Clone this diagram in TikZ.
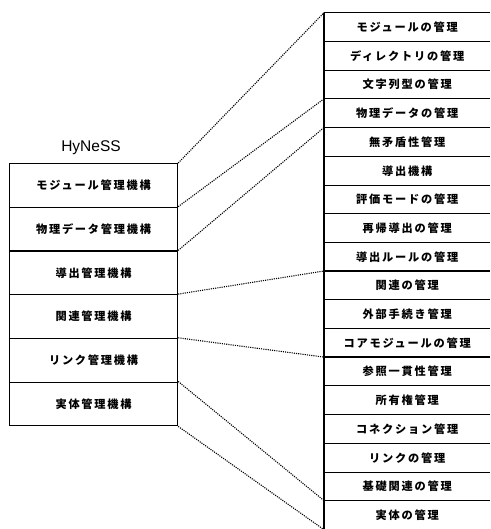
\documentclass[tikz,border=0pt]{standalone}
\usepackage{fontspec}
\setmainfont{Liberation Sans}
\newfontfamily\jp[LetterSpace=16]{Noto Sans CJK JP}
\begin{document}
\begin{tikzpicture}[x=1pt,y=-1pt]
\useasboundingbox (0,0) rectangle (490,529);
\tikzset{
  lbox/.style={draw, line width=1.2pt, minimum width=168pt, minimum height=43.7pt, inner sep=0pt, anchor=north west, font=\jp\bfseries\fontsize{11.2}{13}\selectfont},
  rbox/.style={minimum width=166pt, minimum height=28.7pt, inner sep=0pt, anchor=north west, font=\jp\bfseries\fontsize{11.2}{13}\selectfont},
  link/.style={dash pattern=on 1.1pt off 1.1pt, line width=1.1pt},
  grp/.style={line width=1.4pt},
  sep/.style={line width=0.7pt}
}
\node[font=\fontsize{15.5}{17}\selectfont] (title) at (91,148) {HyNeSS};
\node[lbox] (L1) at (9,163.0) {モジュール管理機構};
\node[lbox] (L2) at (9,206.7) {物理データ管理機構};
\node[lbox] (L3) at (9,250.4) {導出管理機構};
\node[lbox] (L4) at (9,294.1) {関連管理機構};
\node[lbox] (L5) at (9,337.8) {リンク管理機構};
\node[lbox] (L6) at (9,381.5) {実体管理機構};
\node[rbox] (R0) at (324,12.7) {モジュールの管理};
\node[rbox] (R1) at (324,41.4) {ディレクトリの管理};
\node[rbox] (R2) at (324,70.1) {文字列型の管理};
\node[rbox] (R3) at (324,98.8) {物理データの管理};
\node[rbox] (R4) at (324,127.5) {無矛盾性管理};
\node[rbox] (R5) at (324,156.2) {導出機構};
\node[rbox] (R6) at (324,184.9) {評価モードの管理};
\node[rbox] (R7) at (324,213.6) {再帰導出の管理};
\node[rbox] (R8) at (324,242.3) {導出ルールの管理};
\node[rbox] (R9) at (324,271.0) {関連の管理};
\node[rbox] (R10) at (324,299.7) {外部手続き管理};
\node[rbox] (R11) at (324,328.4) {コアモジュールの管理};
\node[rbox] (R12) at (324,357.1) {参照一貫性管理};
\node[rbox] (R13) at (324,385.8) {所有権管理};
\node[rbox] (R14) at (324,414.5) {コネクション管理};
\node[rbox] (R15) at (324,443.2) {リンクの管理};
\node[rbox] (R16) at (324,471.9) {基礎関連の管理};
\node[rbox] (R17) at (324,500.6) {実体の管理};
% separators
\draw[grp] (R0.north west) -- (R0.north east);
\foreach \i in {1,2,5,6,7,8,10,11,13,14,15,16}{
  \draw[sep] (R\i.north west) -- (R\i.north east);
}
\foreach \i in {3,4,9,12,17}{
  \draw[grp] (R\i.north west) -- (R\i.north east);
}
\draw[line width=1.6pt] (R0.north west) -- (R17.south west);
% links
\draw[link] (L1.north east) -- (R0.north west);
\draw[link] (L2.north east) -- (R3.north west);
\draw[link] (L3.north east) -- (R4.north west);
\draw[link] (L4.north east) -- (R9.north west);
\draw[link] (L5.north east) -- (R12.north west);
\draw[link] (L6.north east) -- (R17.north west);
\draw[link] (L6.south east) -- (R17.south west);
\end{tikzpicture}
\end{document}
